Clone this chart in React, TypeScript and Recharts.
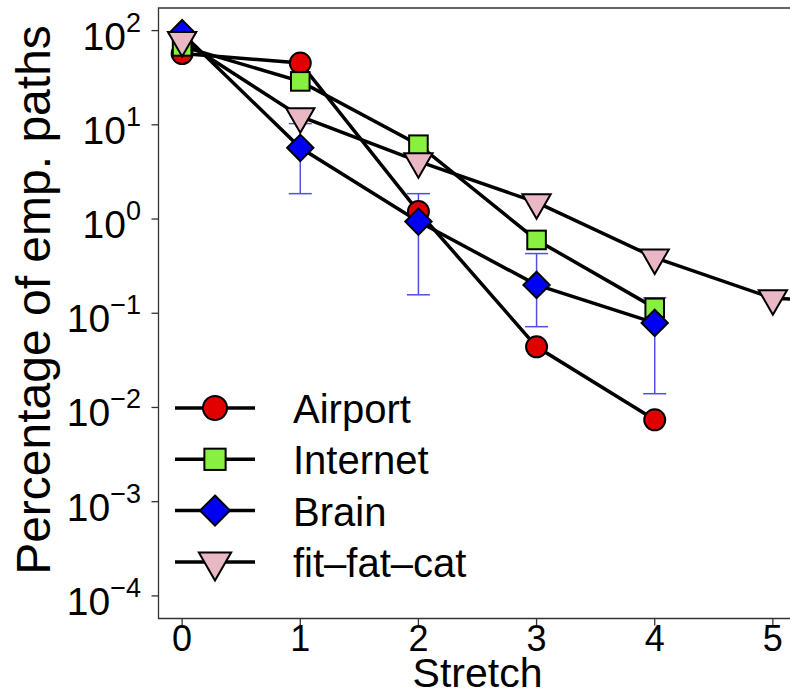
import React from 'react';
import { LineChart, Line, XAxis, YAxis, ErrorBar, ReferenceArea, Legend } from 'recharts';

const stretch = [0, 1, 2, 3, 4, 5, 6];
const airport = [57, 45.3, 1.2, 0.044, 0.0074, null, null];
const internet = [68, 28.9, 6.15, 0.6, 0.114, null, null];
const brain = [94, 5.7, 0.94, 0.2, 0.079, null, null];
const brainLower = [null, 1.86, 0.157, 0.072, 0.014, null, null];
const brainUpper = [null, 10.3, 1.86, 0.43, 0.146, null, null];
const fitFatCat = [79, 12.3, 4.1, 1.5, 0.39, 0.144, 0.13];

const xTicks = [0, 1, 2, 3, 4, 5];
const yTicks = [1e-4, 1e-3, 1e-2, 1e-1, 1, 10, 100];
const yDomain = [Math.pow(10, -4.24), Math.pow(10, 2.24)];

const FONT = '"Liberation Sans", Arial, Helvetica, sans-serif';

const series = [
  { key: 'airport', name: 'Airport', fill: '#e00000', shape: 'circle' },
  { key: 'internet', name: 'Internet', fill: '#88f040', shape: 'square' },
  { key: 'brain', name: 'Brain', fill: '#0000f5', shape: 'diamond' },
  { key: 'fitFatCat', name: 'fit\u2013fat\u2013cat', fill: '#eab8c4', shape: 'triangle' },
];

const data = stretch.map((s, i) => ({
  stretch: s,
  airport: airport[i],
  internet: internet[i],
  brain: brain[i],
  brainErr:
    brain[i] != null && brainLower[i] != null && brainUpper[i] != null
      ? [brain[i] - brainLower[i], brainUpper[i] - brain[i]]
      : null,
  fitFatCat: fitFatCat[i],
}));

// R style point symbols (pch 21, 22, 23, 25)
function marker(shape: string, cx: number, cy: number, R: number, fill: string) {
  const st = { fill, stroke: '#000', strokeWidth: 2 };
  if (shape === 'circle') return <circle cx={cx} cy={cy} r={R} {...st} />;
  if (shape === 'square') {
    const h = 0.886 * R;
    return <rect x={cx - h} y={cy - h} width={2 * h} height={2 * h} {...st} />;
  }
  if (shape === 'diamond') {
    const d = 1.253 * R;
    return <polygon points={`${cx},${cy - d} ${cx + d},${cy} ${cx},${cy + d} ${cx - d},${cy}`} {...st} />;
  }
  const a = 1.347 * R, b = 0.778 * R, c = 1.555 * R;
  return <polygon points={`${cx - a},${cy - b} ${cx + a},${cy - b} ${cx},${cy + c}`} {...st} />;
}

const makeDot = (shape: string, fill: string) => (props: any) => {
  const { cx, cy, index } = props;
  if (cx == null || cy == null || props.value == null) return <g key={`e-${index}`} />;
  return <g key={`d-${index}`}>{marker(shape, cx, cy, 10.5, fill)}</g>;
};

const YTick = (props: any) => {
  const { y, payload } = props;
  const exp = Math.round(Math.log10(payload.value));
  const sup = exp < 0 ? '\u2212' + -exp : String(exp);
  return (
    <text x={141} y={y + 19} textAnchor="end" fontFamily={FONT} fontSize={39} fill="#000">
      10
      <tspan dy={-18} fontSize={27}>{sup}</tspan>
    </text>
  );
};

const XTick = (props: any) => {
  const { x, payload } = props;
  return (
    <text x={x} y={651} textAnchor="middle" fontFamily={FONT} fontSize={36} fill="#000">
      {payload.value}
    </text>
  );
};

const renderLegend = () => (
  <svg width={340} height={210}>
    {series.map((s, i) => {
      const y = 28 + i * 51.3;
      return (
        <g key={s.key}>
          <line x1={15} x2={95} y1={y} y2={y} stroke="#000" strokeWidth={3.5} />
          {marker(s.shape, 55, y, 12, s.fill)}
          <text x={133} y={y + 15} fontFamily={FONT} fontSize={40} fill="#000">
            {s.name}
          </text>
        </g>
      );
    })}
  </svg>
);

export default function App() {
  return (
    <div style={{ position: 'absolute', left: 0, top: 0, width: 790, height: 696, overflow: 'hidden', background: '#fff' }}>
      <LineChart width={800} height={696} data={data} margin={{ top: 8, right: 3.5, left: 98.5, bottom: 37.5 }}>
        <XAxis
          dataKey="stretch"
          type="number"
          domain={[-0.2, 5.2]}
          allowDataOverflow
          ticks={xTicks}
          height={40}
          axisLine={false}
          tickSize={7}
          tickLine={{ stroke: '#333', strokeWidth: 1.3 }}
          tick={<XTick />}
          label={{
            content: (p: any) => (
              <text x={p.viewBox.x + p.viewBox.width / 2} y={687} textAnchor="middle" fontFamily={FONT} fontSize={41} fill="#000">
                Stretch
              </text>
            ),
          }}
        />
        <YAxis
          scale="log"
          domain={yDomain}
          allowDataOverflow
          ticks={yTicks}
          width={60}
          axisLine={false}
          tickSize={7}
          tickLine={{ stroke: '#333', strokeWidth: 1.3 }}
          tick={<YTick />}
          label={{
            content: () => (
              <text transform="translate(50,300) rotate(-90)" textAnchor="middle" fontFamily={FONT} fontSize={48} fill="#000">
                Percentage of emp. paths
              </text>
            ),
          }}
        />
        <ReferenceArea x1={-0.2} x2={5.2} y1={yDomain[0]} y2={yDomain[1]} fill="none" stroke="#333" strokeWidth={1.3} fillOpacity={0} />
        {series.map((s) => (
          <Line
            key={s.key}
            dataKey={s.key}
            name={s.name}
            stroke="#000"
            strokeWidth={3.5}
            dot={makeDot(s.shape, s.fill)}
            activeDot={false}
            isAnimationActive={false}
          >
            {s.key === 'brain' && (
              <ErrorBar dataKey="brainErr" direction="y" width={11.5} stroke="#5050e0" strokeWidth={1.5} />
            )}
          </Line>
        ))}
        <Legend
          layout="horizontal"
          verticalAlign="middle"
          align="center"
          content={renderLegend}
          wrapperStyle={{ position: 'absolute', left: 160, top: 380, width: 340, height: 210 }}
        />
      </LineChart>
    </div>
  );
}
